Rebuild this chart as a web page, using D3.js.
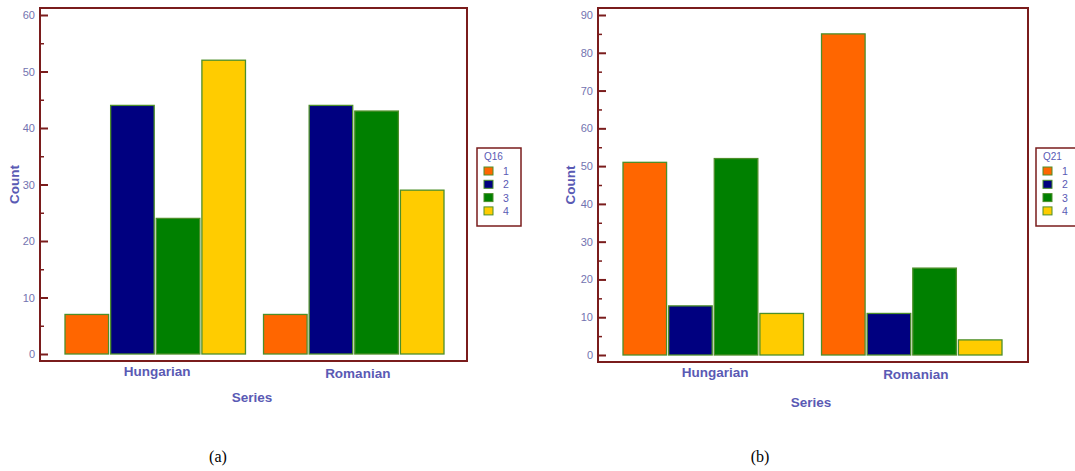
<!DOCTYPE html>
<html><head><meta charset="utf-8">
<script src="https://cdn.jsdelivr.net/npm/d3@7"></script>
<style>body{margin:0;background:#fff}svg{display:block}</style>
</head><body>
<svg id="c" width="1075" height="471"></svg>
<script>
const categories = ["Hungarian", "Romanian"];
const answers = ["1", "2", "3", "4"];
const q16Values = [[7, 44, 24, 52], [7, 44, 43, 29]];
const q21Values = [[51, 13, 52, 11], [85, 11, 23, 4]];
const q16Ticks = [0, 10, 20, 30, 40, 50, 60];
const q21Ticks = [0, 10, 20, 30, 40, 50, 60, 70, 80, 90];
const colors = ["#ff6600", "#000080", "#008000", "#ffcc00"];

const svg = d3.select("#c");
const axisCol = "#7a1c1c";
const textCol = "#5a5ab4";
const tickCol = "#7373b0";

function panel(cfg) {
  const g = svg.append("g");
  const y = d3.scaleLinear().domain([0, cfg.max]).range([cfg.y0, cfg.y1]);
  const x = d3.scaleBand().domain(categories).range(cfg.xr).paddingInner(0.0909).paddingOuter(0);
  const xs = d3.scaleBand().domain(answers).range([0, x.bandwidth()]).paddingInner(0.045);

  // frame
  g.append("rect").attr("x", cfg.left).attr("y", cfg.top)
    .attr("width", cfg.right - cfg.left).attr("height", cfg.bottom - cfg.top)
    .attr("fill", "none").attr("stroke", axisCol).attr("stroke-width", 2);

  // bars
  categories.forEach((c, ci) => {
    answers.forEach((a, ai) => {
      const v = cfg.values[ci][ai];
      g.append("rect")
        .attr("x", x(c) + xs(a)).attr("y", y(v))
        .attr("width", xs.bandwidth()).attr("height", y(0) - y(v))
        .attr("fill", colors[ai]).attr("stroke", "#4d8f2a").attr("stroke-width", 1.3);
    });
  });

  // y axis major ticks (inward)
  const ax = d3.axisRight(y).tickValues(cfg.ticks).tickSize(8).tickFormat("");
  const axg = g.append("g").attr("transform", `translate(${cfg.left},0)`).call(ax);
  axg.select(".domain").remove();
  axg.selectAll("line").attr("stroke", axisCol).attr("stroke-width", 2);
  const minor = d3.range(5, cfg.max, 10);
  const ax2 = d3.axisRight(y).tickValues(minor).tickSize(4).tickFormat("");
  const axg2 = g.append("g").attr("transform", `translate(${cfg.left},0)`).call(ax2);
  axg2.select(".domain").remove();
  axg2.selectAll("line").attr("stroke", axisCol).attr("stroke-width", 1.5);
  // tick labels
  g.selectAll(".tl").data(cfg.ticks).join("text")
    .attr("x", cfg.left - 5).attr("y", d => y(d) + 4)
    .attr("text-anchor", "end").attr("font-family", "Liberation Sans, Arial, sans-serif")
    .attr("font-size", 11).attr("fill", tickCol).text(d => d);

  // category labels
  g.selectAll(".cl").data(categories).join("text")
    .attr("x", d => x(d) + x.bandwidth() / 2 + (d === "Romanian" ? 4 : 2))
    .attr("y", (d, i) => cfg.bottom + 15 + i * 2)
    .attr("text-anchor", "middle").attr("font-family", "Liberation Sans, Arial, sans-serif")
    .attr("font-weight", "bold").attr("font-size", 13.5).attr("fill", textCol).text(d => d);

  g.append("text").attr("x", cfg.seriesX).attr("y", cfg.seriesY)
    .attr("text-anchor", "middle").attr("font-family", "Liberation Sans, Arial, sans-serif")
    .attr("font-weight", "bold").attr("font-size", 13.5).attr("fill", textCol).text("Series");

  g.append("text").attr("transform", `translate(${cfg.countX},${(cfg.top + cfg.bottom) / 2}) rotate(-90)`)
    .attr("text-anchor", "middle").attr("font-family", "Liberation Sans, Arial, sans-serif")
    .attr("font-weight", "bold").attr("font-size", 13.5).attr("fill", textCol).text("Count");

  // legend
  const lx = cfg.legX, ly = 148;
  g.append("rect").attr("x", lx).attr("y", ly).attr("width", 44).attr("height", 78)
    .attr("fill", "#fff").attr("stroke", axisCol).attr("stroke-width", 1.5);
  g.append("text").attr("x", lx + 7).attr("y", ly + 12).attr("font-family", "Liberation Sans, Arial, sans-serif")
    .attr("font-size", 10).attr("fill", textCol).text(cfg.title);
  answers.forEach((a, i) => {
    const yy = ly + 19 + i * 13.3;
    g.append("rect").attr("x", lx + 7).attr("y", yy).attr("width", 9).attr("height", 8)
      .attr("fill", colors[i]).attr("stroke", "#4d8f2a").attr("stroke-width", 1);
    g.append("text").attr("x", lx + 26).attr("y", yy + 8).attr("font-family", "Liberation Sans, Arial, sans-serif")
      .attr("font-size", 10.5).attr("fill", textCol).text(a);
  });

  g.append("text").attr("x", cfg.capX).attr("y", 462).attr("text-anchor", "middle")
    .attr("font-family", "Liberation Serif, Times New Roman, serif").attr("font-size", 16)
    .attr("fill", "#000").text(cfg.caption);
}

panel({ values: q16Values, ticks: q16Ticks, max: 60, y0: 354, y1: 15,
  left: 40, top: 8, right: 467, bottom: 361, xr: [65, 444],
  seriesX: 252, seriesY: 402, countX: 19, legX: 477, title: "Q16", capX: 218, caption: "(a)" });
panel({ values: q21Values, ticks: q21Ticks, max: 90, y0: 355, y1: 15,
  left: 598, top: 8, right: 1028, bottom: 362, xr: [623, 1002],
  seriesX: 811, seriesY: 407, countX: 575, legX: 1036, title: "Q21", capX: 760, caption: "(b)" });
</script>
</body></html>
